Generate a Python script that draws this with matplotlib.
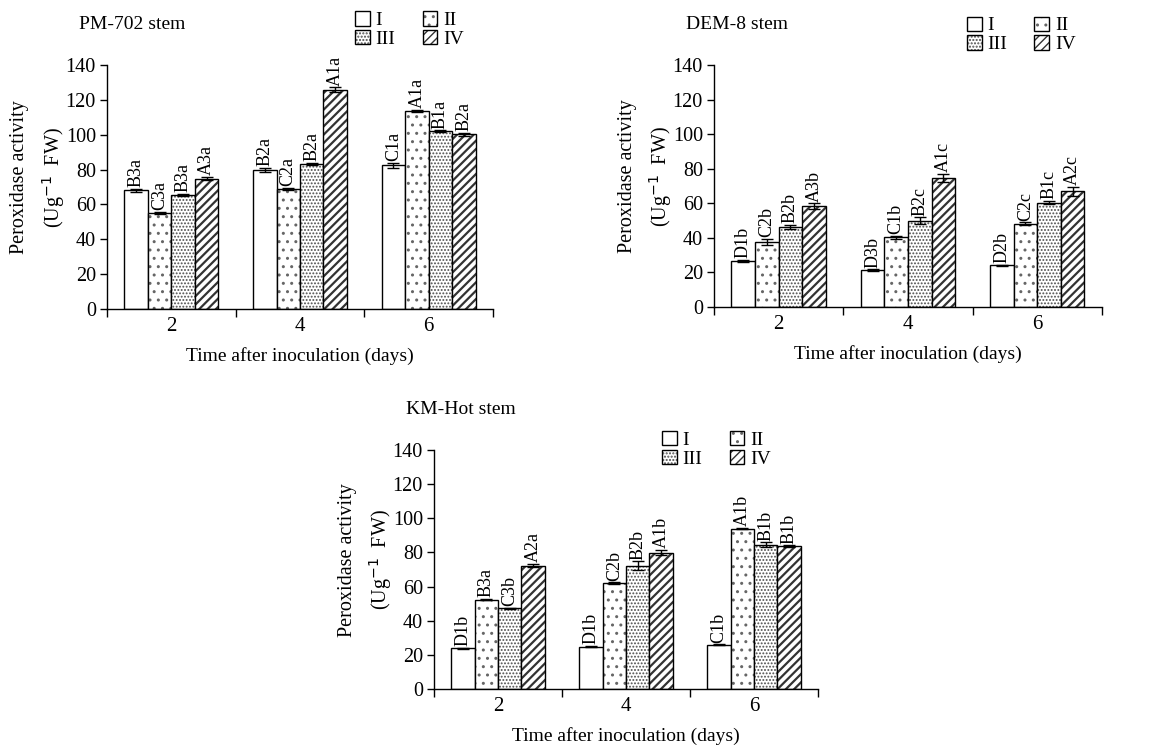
import matplotlib
matplotlib.use("Agg")
import matplotlib.pyplot as plt
import matplotlib.transforms as mtransforms
from matplotlib.patches import Patch
import numpy as np

plt.rcParams['font.family'] = ['Liberation Serif', 'DejaVu Serif']

days = ['2', '4', '6']
groups = ['I', 'II', 'III', 'IV']
hatches = ['', '..', '.....', '////']
hatch_colors = ['black', '#666666', '#4d4d4d', '#333333']
hatch_widths = [1.0, 1.0, 0.9, 1.6]

# PM-702 stem (rows = days, columns = I..IV)
pm702_vals = [[68.1, 55.1, 65.4, 74.8],
              [79.9, 68.8, 83.4, 125.8],
              [82.4, 113.8, 101.9, 100.2]]
pm702_err = [[0.8, 0.8, 0.6, 1.0],
             [1.2, 0.5, 0.6, 1.3],
             [1.5, 0.6, 0.6, 0.8]]
pm702_lbl = [['B3a', 'C3a', 'B3a', 'A3a'],
             ['B2a', 'C2a', 'B2a', 'A1a'],
             ['C1a', 'A1a', 'B1a', 'B2a']]

# DEM-8 stem
dem8_vals = [[26.6, 37.6, 46.3, 58.4],
             [21.4, 40.3, 49.9, 74.6],
             [24.1, 48.2, 60.4, 66.9]]
dem8_err = [[0.8, 2.0, 1.0, 1.5],
            [0.3, 1.0, 2.0, 2.5],
            [0.3, 0.8, 0.8, 2.5]]
dem8_lbl = [['D1b', 'C2b', 'B2b', 'A3b'],
            ['D3b', 'C1b', 'B2c', 'A1c'],
            ['D2b', 'C2c', 'B1c', 'A2c']]

# KM-Hot stem
kmhot_vals = [[24.0, 52.4, 47.4, 72.3],
              [24.8, 62.0, 72.3, 79.9],
              [25.9, 94.0, 84.4, 83.6]]
kmhot_err = [[0.3, 0.3, 0.3, 0.8],
             [0.3, 0.5, 2.5, 1.5],
             [0.3, 0.5, 1.5, 0.5]]
kmhot_lbl = [['D1b', 'B3a', 'C3b', 'A2a'],
             ['D1b', 'C2b', 'B2b', 'A1b'],
             ['C1b', 'A1b', 'B1b', 'B1b']]


def draw_panel(fig, ax, title, vals, errs, labels, legend_xy):
    vals = np.array(vals)
    errs = np.array(errs)
    n_days = len(days)
    width = 0.1825
    x = np.arange(n_days)
    for j, g in enumerate(groups):
        pos = x + (j - 1.5) * width
        # hatch in grey first, black outline on top
        with plt.rc_context({'hatch.linewidth': hatch_widths[j]}):
            ax.bar(pos, vals[:, j], width, color='white', edgecolor=hatch_colors[j],
                   linewidth=0, hatch=hatches[j])
        ax.bar(pos, vals[:, j], width, facecolor='none', edgecolor='black', linewidth=1.0)
        ax.errorbar(pos, vals[:, j], yerr=errs[:, j], fmt='none',
                    ecolor='black', elinewidth=1.0, capsize=4, capthick=1.0)
        for i in range(n_days):
            ax.text(pos[i], vals[i, j] + errs[i, j] + 1.0, labels[i][j],
                    rotation=90, ha='center', va='bottom', fontsize=13)

    ax.set_xlim(-0.5, n_days - 0.5)
    ax.set_ylim(0, 140)
    ax.set_yticks(range(0, 141, 20))
    ax.set_xticks(np.arange(n_days + 1) - 0.5)
    ax.set_xticklabels([])
    ax.set_xticks(x, minor=True)
    ax.set_xticklabels(days, minor=True)
    ax.tick_params(axis='x', which='major', direction='out', length=6, width=1)
    ax.tick_params(axis='x', which='minor', length=0, pad=6, labelsize=15)
    ax.tick_params(axis='y', direction='out', length=5, width=1, labelsize=14.5, pad=3)
    for s in ['top', 'right']:
        ax.spines[s].set_visible(False)
    for s in ['left', 'bottom']:
        ax.spines[s].set_linewidth(1.0)

    ax.set_xlabel('Time after inoculation (days)', fontsize=14, labelpad=8)

    t1 = mtransforms.offset_copy(ax.transAxes, fig=fig, x=-87, y=0, units='dots')
    t2 = mtransforms.offset_copy(ax.transAxes, fig=fig, x=-53, y=0, units='dots')
    ax.text(0, 0.54, 'Peroxidase activity', transform=t1, rotation=90,
            ha='center', va='center', fontsize=14.5)
    ax.text(0, 0.54, r'(Ug$^{-1}$  FW)', transform=t2, rotation=90,
            ha='center', va='center', fontsize=14.5)

    tt = mtransforms.offset_copy(ax.transAxes, fig=fig, x=-28, y=40, units='dots')
    ax.text(0, 1, title, transform=tt, ha='left', va='center', fontsize=14)

    # legend fills column-wise, so order handles to give rows I II / III IV
    handles = []
    for j in [0, 2, 1, 3]:
        with plt.rc_context({'hatch.linewidth': hatch_widths[j]}):
            fill = Patch(facecolor='white', edgecolor=hatch_colors[j], linewidth=0,
                         hatch=hatches[j])
        edge = Patch(facecolor='none', edgecolor='black', linewidth=1.0)
        handles.append((fill, edge))
    ax.legend(handles=handles, labels=[groups[j] for j in [0, 2, 1, 3]], ncol=2,
              loc='upper left', bbox_to_anchor=legend_xy,
              frameon=False, fontsize=14, handlelength=0.75, handleheight=0.75,
              handletextpad=0.3, columnspacing=1.4, labelspacing=0.05,
              borderpad=0, borderaxespad=0)


fig = plt.figure(figsize=(11.58, 7.46), dpi=100)
ax1 = fig.add_axes([0.0924, 0.5858, 0.3333, 0.3271])
ax2 = fig.add_axes([0.6166, 0.5885, 0.3350, 0.3244])
ax3 = fig.add_axes([0.3748, 0.0764, 0.3316, 0.3204])

draw_panel(fig, ax1, 'PM-702 stem', pm702_vals, pm702_err, pm702_lbl, (0.643, 1.22))
draw_panel(fig, ax2, 'DEM-8 stem', dem8_vals, dem8_err, dem8_lbl, (0.652, 1.20))
draw_panel(fig, ax3, 'KM-Hot stem', kmhot_vals, kmhot_err, kmhot_lbl, (0.594, 1.08))

fig.savefig('out.png', dpi=100)
